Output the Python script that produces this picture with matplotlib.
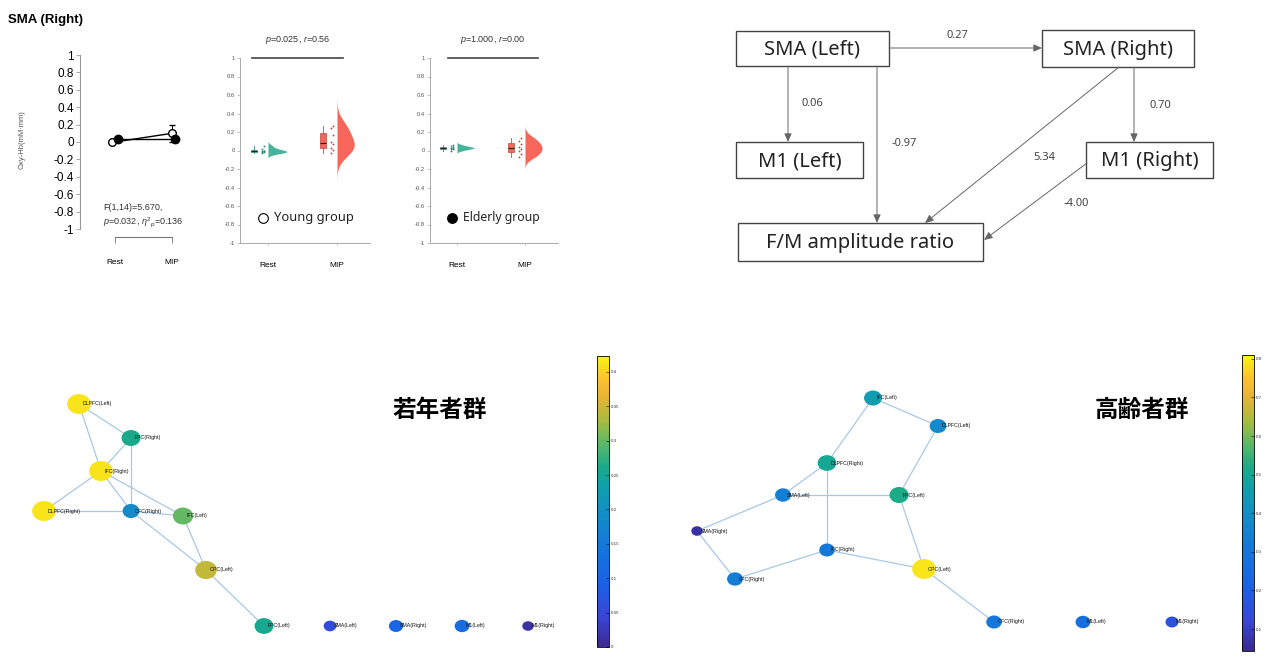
import numpy as np
import matplotlib
matplotlib.use('Agg')
import matplotlib.pyplot as plt
from matplotlib.patches import Ellipse, Rectangle
from matplotlib.lines import Line2D
from matplotlib.colors import LinearSegmentedColormap, Normalize
from matplotlib.cm import ScalarMappable

plt.rcParams['axes.unicode_minus'] = False
plt.rcParams['font.family'] = ['Liberation Sans', 'DejaVu Sans']
plt.rcParams['mathtext.fontset'] = 'custom'
plt.rcParams['mathtext.rm'] = 'Liberation Sans'
plt.rcParams['mathtext.it'] = 'Liberation Sans:italic'

# ------------------------------------------------------------------ data
conditions = ['Rest', 'MIP']
y_ticks = [1, 0.8, 0.6, 0.4, 0.2, 0, -0.2, -0.4, -0.6, -0.8, -1]

young_mean = [-0.005, 0.10]
young_err = [0.01, 0.10]
elderly_mean = [0.03, 0.03]
elderly_err = [0.01, 0.03]

young_rest = [-0.03, -0.02, -0.015, -0.01, -0.01, 0.0, 0.02, 0.05]
young_mip = [-0.03, 0.01, 0.03, 0.07, 0.09, 0.17, 0.24, 0.27]
elderly_rest = [0.0, 0.015, 0.02, 0.03, 0.03, 0.035, 0.045, 0.06]
elderly_mip = [-0.07, -0.04, -0.01, 0.02, 0.04, 0.07, 0.10, 0.14]

young_stat = r'$\it{p}$=0.025, $\it{r}$=0.56'
elderly_stat = r'$\it{p}$=1.000, $\it{r}$=0.00'
anova_text1 = 'F(1,14)=5.670,'
anova_text2 = r'$\it{p}$=0.032, $\eta^{2}{}_{p}$=0.136'

path_nodes = ['SMA (Left)', 'SMA (Right)', 'M1 (Left)', 'M1 (Right)', 'F/M amplitude ratio']
path_edges = [('SMA (Left)', 'SMA (Right)'), ('SMA (Left)', 'M1 (Left)'),
              ('SMA (Left)', 'F/M amplitude ratio'), ('SMA (Right)', 'M1 (Right)'),
              ('SMA (Right)', 'F/M amplitude ratio'), ('M1 (Right)', 'F/M amplitude ratio')]
path_coefs = ['0.27', '0.06', '-0.97', '0.70', '5.34', '-4.00']

young_nodes = ['DLPFC(Left)', 'FPC(Right)', 'IFC(Right)', 'DLPFC(Right)', 'OFC(Right)',
               'IFC(Left)', 'OPC(Left)', 'FPC(Left)', 'SMA(Left)', 'SMA(Right)',
               'M1(Left)', 'M1(Right)']
young_values = [0.41, 0.26, 0.41, 0.41, 0.19, 0.30, 0.345, 0.255, 0.055, 0.105, 0.12, 0.013]
young_edges = [('DLPFC(Left)', 'FPC(Right)'), ('DLPFC(Left)', 'IFC(Right)'),
               ('FPC(Right)', 'IFC(Right)'), ('FPC(Right)', 'OFC(Right)'),
               ('IFC(Right)', 'DLPFC(Right)'), ('IFC(Right)', 'OFC(Right)'),
               ('IFC(Right)', 'IFC(Left)'), ('DLPFC(Right)', 'OFC(Right)'),
               ('OFC(Right)', 'IFC(Left)'), ('OFC(Right)', 'OPC(Left)'),
               ('IFC(Left)', 'OPC(Left)'), ('OPC(Left)', 'FPC(Left)')]
young_cbar_ticks = [0, 0.05, 0.1, 0.15, 0.2, 0.25, 0.3, 0.35, 0.4]
young_range = (0.0, 0.423)

elderly_nodes = ['IFC(Left)', 'DLPFC(Left)', 'DLPFC(Right)', 'SMA(Left)', 'FPC(Left)',
                 'SMA(Right)', 'IFC(Right)', 'FPC(Right)', 'OPC(Left)', 'OFC(Right)',
                 'M1(Left)', 'M1(Right)']
elderly_values = [0.45, 0.38, 0.50, 0.335, 0.52, 0.066, 0.31, 0.33, 0.79, 0.31, 0.27, 0.16]
elderly_edges = [('IFC(Left)', 'DLPFC(Left)'), ('IFC(Left)', 'DLPFC(Right)'),
                 ('DLPFC(Left)', 'FPC(Left)'), ('DLPFC(Right)', 'SMA(Left)'),
                 ('DLPFC(Right)', 'IFC(Right)'), ('SMA(Left)', 'FPC(Left)'),
                 ('SMA(Left)', 'SMA(Right)'), ('SMA(Right)', 'FPC(Right)'),
                 ('FPC(Right)', 'IFC(Right)'), ('IFC(Right)', 'OPC(Left)'),
                 ('FPC(Left)', 'OPC(Left)'), ('OPC(Left)', 'OFC(Right)')]
elderly_cbar_ticks = [0.1, 0.2, 0.3, 0.4, 0.5, 0.6, 0.7, 0.8]
elderly_range = (0.043, 0.81)

# ------------------------------------------------------------------ layout (pixels)
young_layout = {'DLPFC(Left)': (79, 404), 'FPC(Right)': (131, 438), 'IFC(Right)': (101, 471),
                'DLPFC(Right)': (44, 511), 'OFC(Right)': (131, 511), 'IFC(Left)': (183, 516),
                'OPC(Left)': (206, 570), 'FPC(Left)': (264, 626), 'SMA(Left)': (330, 626),
                'SMA(Right)': (396, 626), 'M1(Left)': (462, 626), 'M1(Right)': (528, 626)}
elderly_layout = {'IFC(Left)': (873, 398), 'DLPFC(Left)': (938, 426), 'DLPFC(Right)': (827, 463),
                  'SMA(Left)': (783, 495), 'FPC(Left)': (899, 495), 'SMA(Right)': (697, 531),
                  'IFC(Right)': (827, 550), 'FPC(Right)': (735, 579), 'OPC(Left)': (924, 569),
                  'OFC(Right)': (994, 622), 'M1(Left)': (1083, 622), 'M1(Right)': (1172, 622)}
path_boxes = {'SMA (Left)': (736, 31, 889, 66), 'SMA (Right)': (1042, 30, 1194, 67),
              'M1 (Left)': (736, 142, 863, 178), 'M1 (Right)': (1086, 142, 1213, 178),
              'F/M amplitude ratio': (738, 223, 983, 261)}
path_arrow_pts = [((889, 48), (1042, 48)), ((788, 66), (788, 142)), ((877, 66), (877, 223)),
                  ((1134, 67), (1134, 142)), ((1119, 67), (925, 223)), ((1087, 163), (984, 240))]
path_label_pts = [(957, 36), (812, 103), (904, 143), (1160, 105), (1044, 157), (1076, 204)]

W, H = 1280, 658
fig = plt.figure(figsize=(W / 100, H / 100), dpi=100)
fig.patch.set_facecolor('white')


def px_axes(x0, y0, x1, y1):
    return fig.add_axes([x0 / W, 1 - y1 / H, (x1 - x0) / W, (y1 - y0) / H])


def ftext(x, y, s, **kw):
    fig.text(x / W, 1 - y / H, s, **kw)


parula = LinearSegmentedColormap.from_list('parula_like', [
    (0.0, '#3B2A90'), (0.1, '#3A45D6'), (0.22, '#1A62E6'), (0.35, '#1478DA'),
    (0.47, '#1290C4'), (0.55, '#0FA0AA'), (0.62, '#1AAA88'), (0.7, '#5CB868'),
    (0.78, '#A8BC3E'), (0.86, '#E6B435'), (0.92, '#FCC030'), (1.0, '#F8F50F')])

# overlay axes in pixel coordinates (networks + path diagram)
ov = fig.add_axes([0, 0, 1, 1])
ov.set_xlim(0, W)
ov.set_ylim(H, 0)
ov.axis('off')
ov.patch.set_visible(False)

# ------------------------------------------------------------------ panel 1
ftext(8, 20, 'SMA (Right)', fontsize=9.5, fontweight='bold', va='center', ha='left')
ax1 = px_axes(80, 55, 200, 229)
ax1.patch.set_visible(False)
ax1.set_ylim(-1, 1)
ax1.set_xlim(-0.614, 1.49)
for s in ['top', 'right']:
    ax1.spines[s].set_visible(False)
ax1.spines['left'].set_bounds(-1, 1)
ax1.spines['left'].set_color('#999999')
ax1.spines['left'].set_linewidth(0.8)
ax1.spines['bottom'].set_position(('data', -1.092))
ax1.spines['bottom'].set_bounds(0, 1)
ax1.spines['bottom'].set_color('#777777')
ax1.spines['bottom'].set_linewidth(0.8)
ax1.set_yticks(y_ticks)
ax1.set_yticklabels([f'{v:g}' for v in y_ticks])
ax1.set_xticks([0, 1])
ax1.set_xticklabels(conditions)
ax1.tick_params(axis='y', labelsize=8.5, length=3, width=0.6, color='#999999', pad=1.5)
ax1.tick_params(axis='x', labelsize=6, length=4.5, width=0.6, color='#777777', pad=11)
ax1.errorbar(np.arange(2) + np.array([-0.05, 0.0]), young_mean, yerr=young_err, fmt='-o',
             color='black', mfc='white', mec='black', ms=5.5, lw=1, capsize=2,
             elinewidth=0.7, clip_on=False, zorder=3)
ax1.errorbar(np.arange(2) + np.array([0.05, 0.05]), elderly_mean, yerr=elderly_err, fmt='-o',
             color='black', mfc='black', mec='black', ms=6, lw=1, capsize=2,
             elinewidth=0.7, clip_on=False, zorder=4)
ftext(22, 140, 'Oxy-Hb(mM·mm)', fontsize=5.5, color='#555555', rotation=90,
      ha='center', va='center')
ftext(103, 207, anova_text1, fontsize=6.5, color='#333333', va='center')
ftext(103, 222, anova_text2, fontsize=6.5, color='#333333', va='center')

# ------------------------------------------------------------------ raincloud panels
teal = '#46B39C'
teal_dark = '#2E8A77'
red = '#F6665A'
red_dark = '#C8473D'


def kde_half(ax, pos, data, bw, width, color):
    d = np.asarray(data)
    g = np.linspace(d.min() - 3.2 * bw, d.max() + 3.2 * bw, 300)
    dens = np.exp(-0.5 * ((g[:, None] - d[None, :]) / bw) ** 2).sum(axis=1)
    ax.fill_betweenx(g, pos, pos + dens / dens.max() * width, color=color, lw=0, zorder=2)


def raincloud(x0, x1, rest_px, mip_px, rest, mip, bws, widths, stat, line_px, legend,
              filled, legend_size):
    u = mip_px - rest_px
    ax = px_axes(x0, 58, x1, 243)
    ax.patch.set_visible(False)
    ax.set_ylim(-1, 1)
    ax.set_xlim((x0 - rest_px) / u, (x1 - rest_px) / u)
    for s in ['top', 'right']:
        ax.spines[s].set_visible(False)
    for s in ['left', 'bottom']:
        ax.spines[s].set_color('#AAAAAA')
        ax.spines[s].set_linewidth(0.7)
    ax.set_yticks(y_ticks)
    ax.set_yticklabels([f'{v:g}' for v in y_ticks])
    ax.set_xticks([0, 1])
    ax.set_xticklabels(conditions)
    ax.tick_params(axis='y', labelsize=4.2, labelcolor='#555555', length=2, width=0.5,
                   color='#AAAAAA', pad=1.5)
    ax.tick_params(axis='x', labelsize=6, length=1.5, width=0.5, color='#AAAAAA', pad=12)
    for i, (vals, col, dk, bw, wd) in enumerate([(rest, teal, teal_dark, bws[0], widths[0]),
                                                  (mip, red, red_dark, bws[1], widths[1])]):
        bp = ax.boxplot([vals], positions=[i - 0.2], widths=0.09, patch_artist=True,
                        showfliers=False, whis=(0, 100), manage_ticks=False)
        for b in bp['boxes']:
            b.set_facecolor(col)
            b.set_edgecolor(dk)
            b.set_linewidth(0.5)
        for w in bp['whiskers']:
            w.set_color(dk)
            w.set_linewidth(0.6)
        for c in bp['caps']:
            c.set_visible(False)
        for m in bp['medians']:
            m.set_color('#222222')
            m.set_linewidth(0.8)
        offs = np.where(np.arange(len(vals)) % 2 == 0, -0.015, 0.015)
        ax.scatter(i - 0.07 + offs, vals, s=1.8, color=dk, lw=0, zorder=3)
        kde_half(ax, i, vals, bw, wd, col)
    ax.plot([(line_px[0] - rest_px) / u, (line_px[1] - rest_px) / u], [1, 1],
            color='#444444', lw=1.2, clip_on=False)
    ftext((line_px[0] + line_px[1]) / 2, 40, stat, fontsize=6.5, color='#333333',
          ha='center', va='center')
    mx = legend[1]
    fig.add_artist(Line2D([mx / W], [1 - 218 / H], marker='o', ms=7,
                          mfc='black' if filled else 'white', mec='black', mew=0.8,
                          transform=fig.transFigure))
    ftext(mx + 11, 218, legend[0], fontsize=legend_size, family=['Noto Sans', 'DejaVu Sans'],
          color='#222222', va='center', ha='left')


raincloud(240, 370, 268, 337, young_rest, young_mip, (0.02, 0.095), (0.27, 0.25),
          young_stat, (252, 343), ('Young group', 263), False, 9.3)
raincloud(430, 558, 457, 525, elderly_rest, elderly_mip, (0.012, 0.045), (0.25, 0.25),
          elderly_stat, (448, 538), ('Elderly group', 452), True, 8.8)

# ------------------------------------------------------------------ path diagram
for name in path_nodes:
    x0, y0, x1, y1 = path_boxes[name]
    ov.add_patch(Rectangle((x0, y0), x1 - x0, y1 - y0, fill=False, ec='#444444', lw=1))
    ov.text((x0 + x1) / 2, (y0 + y1) / 2 + 1, name, fontsize=14.5,
            family=['Noto Sans', 'DejaVu Sans'], color='#222222', ha='center', va='center')
for (a, b), coef, (p0, p1), lp in zip(path_edges, path_coefs, path_arrow_pts, path_label_pts):
    ov.annotate('', xy=p1, xytext=p0,
                arrowprops=dict(arrowstyle='-|>,head_length=0.5,head_width=0.22',
                                color='#666666', lw=0.7, shrinkA=0, shrinkB=0))
    ov.text(lp[0], lp[1], coef, fontsize=8, family=['Noto Sans', 'DejaVu Sans'],
            color='#444444', ha='center', va='center')

# ------------------------------------------------------------------ networks


def network(nodes, values, edges, layout, vrange, title, title_pos, cbar_px, ticks):
    norm = Normalize(*vrange)
    for a, b in edges:
        (xa, ya), (xb, yb) = layout[a], layout[b]
        ov.plot([xa, xb], [ya, yb], color='#A9C8E6', lw=0.9, zorder=1)
    for n, v in zip(nodes, values):
        x, y = layout[n]
        w = 11 + 13 * norm(v)
        ov.add_patch(Ellipse((x, y), w, w * 0.84, color=parula(norm(v)), lw=0, zorder=2))
        ov.text(x + 3.5, y, n, fontsize=3.8, color='#111111', ha='left', va='center', zorder=3)
    ov.text(title_pos[0], title_pos[1], title, fontsize=17, fontweight='bold',
            family=['Noto Sans CJK JP', 'DejaVu Sans'], ha='center', va='center')
    cax = px_axes(*cbar_px)
    cb = fig.colorbar(ScalarMappable(norm=norm, cmap=parula), cax=cax, ticks=ticks)
    cb.ax.set_yticklabels([f'{t:g}' for t in ticks])
    cb.ax.tick_params(labelsize=3.2, length=2, width=0.4, direction='in', pad=1.5,
                      labelcolor='#333333')
    cb.outline.set_linewidth(0.6)


network(young_nodes, young_values, young_edges, young_layout, young_range, '若年者群',
        (440, 410), (597, 356, 609, 647), young_cbar_ticks)
network(elderly_nodes, elderly_values, elderly_edges, elderly_layout, elderly_range, '高齢者群',
        (1142, 410), (1242, 355, 1254, 651), elderly_cbar_ticks)

fig.savefig('out.png', dpi=100, facecolor='white')
